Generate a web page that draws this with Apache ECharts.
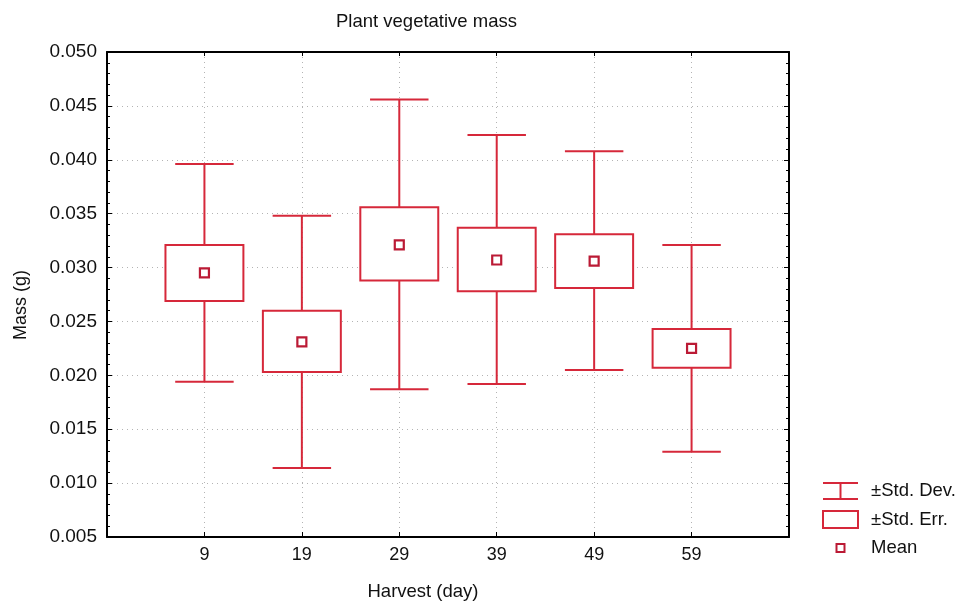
<!DOCTYPE html>
<html>
<head>
<meta charset="utf-8">
<script src="https://cdn.jsdelivr.net/npm/echarts@6/dist/echarts.min.js"></script>
<style>html,body{margin:0;padding:0;background:#fff}#c{width:964px;height:605px}</style>
</head>
<body>
<div id="c"></div>
<script>
// ---- data ----
var categories = ['9', '19', '29', '39', '49', '59'];
var means  = [0.0295, 0.0231, 0.0321, 0.0307, 0.0306, 0.0225];
var seLow  = [0.0269, 0.0203, 0.0288, 0.0278, 0.0281, 0.0207];
var seHigh = [0.0321, 0.0260, 0.0356, 0.0337, 0.0331, 0.0243];
var sdLow  = [0.0194, 0.0114, 0.0187, 0.0192, 0.0205, 0.0129];
var sdHigh = [0.0396, 0.0348, 0.0456, 0.0423, 0.0408, 0.0321];
var yTicks = ['0.005','0.010','0.015','0.020','0.025','0.030','0.035','0.040','0.045','0.050'];

var RED = '#d6283a';
var MEAN_RED = '#bb1a35';
var FONT = 'Liberation Sans, Arial, sans-serif';

var axisCats = [''].concat(categories).concat(['']);
var data = categories.map(function (c, i) {
  return [i + 1, sdLow[i], seLow[i], means[i], seHigh[i], sdHigh[i]];
});
function inner(idx) { return idx > 0 && idx < axisCats.length - 1; }

var chart = echarts.init(document.getElementById('c'), null, {renderer: 'canvas'});
var gridStyle = {type: [1, 4], color: '#b4b4b4', width: 1};

chart.setOption({
  backgroundColor: '#fff',
  animation: false,
  title: {
    text: 'Plant vegetative mass',
    left: 331, top: 7,
    textStyle: {fontFamily: FONT, fontSize: 18.5, fontWeight: 'normal', color: '#111'}
  },
  grid: {left: 107, right: 175, top: 52, bottom: 68},
  xAxis: [{
    type: 'category', data: axisCats, boundaryGap: false, position: 'bottom',
    axisLine: {lineStyle: {color: '#000', width: 2}},
    axisTick: {inside: true, length: 5, interval: function (i) { return inner(i); }, lineStyle: {color: '#000'}},
    axisLabel: {interval: 0, margin: 9, fontFamily: FONT, fontSize: 18, color: '#111'},
    splitLine: {show: true, interval: function (i) { return inner(i); }, lineStyle: gridStyle}
  }, {
    type: 'category', data: axisCats, boundaryGap: false, position: 'top',
    axisLine: {lineStyle: {color: '#000', width: 2}},
    axisTick: {inside: true, length: 4, interval: function (i) { return inner(i); }, lineStyle: {color: '#000'}},
    axisLabel: {show: false}, splitLine: {show: false}
  }],
  yAxis: [{
    type: 'value', min: 0.005, max: 0.05, interval: 0.005, position: 'left',
    axisLine: {show: true, lineStyle: {color: '#000', width: 2}},
    axisTick: {show: true, inside: true, length: 5, lineStyle: {color: '#000'}},
    minorTick: {show: true, splitNumber: 5, length: 3, lineStyle: {color: '#000'}},
    axisLabel: {
      margin: 10, fontFamily: FONT, fontSize: 19, color: '#111',
      formatter: function (v) {
        var k = Math.round(v / 0.005) - 1;
        return yTicks[k] !== undefined ? yTicks[k] : v.toFixed(3);
      }
    },
    splitLine: {show: true, lineStyle: gridStyle}
  }, {
    type: 'value', min: 0.005, max: 0.05, interval: 0.005, position: 'right',
    axisLine: {show: true, lineStyle: {color: '#000', width: 2}},
    axisTick: {show: true, inside: true, length: 5, lineStyle: {color: '#000'}},
    minorTick: {show: true, splitNumber: 5, length: 3, lineStyle: {color: '#000'}},
    axisLabel: {show: false}, splitLine: {show: false}
  }],
  series: [{
    type: 'custom',
    name: 'stats',
    xAxisIndex: 0, yAxisIndex: 0,
    data: data,
    encode: {x: 0, y: [1, 2, 3, 4, 5]},
    renderItem: function (params, api) {
      var xi = api.value(0);
      var pLo = api.coord([xi, api.value(1)]);
      var pSeLo = api.coord([xi, api.value(2)]);
      var pMean = api.coord([xi, api.value(3)]);
      var pSeHi = api.coord([xi, api.value(4)]);
      var pHi = api.coord([xi, api.value(5)]);
      var band = api.coord([xi + 1, api.value(3)])[0] - pMean[0];
      var x = pMean[0];
      var bw = band * 0.4, ww = band * 0.3;
      var ls = {stroke: RED, lineWidth: 2, fill: null};
      return {
        type: 'group',
        children: [
          {type: 'line', shape: {x1: x, y1: pHi[1], x2: x, y2: pSeHi[1]}, style: ls},
          {type: 'line', shape: {x1: x, y1: pSeLo[1], x2: x, y2: pLo[1]}, style: ls},
          {type: 'line', shape: {x1: x - ww, y1: pHi[1], x2: x + ww, y2: pHi[1]}, style: ls},
          {type: 'line', shape: {x1: x - ww, y1: pLo[1], x2: x + ww, y2: pLo[1]}, style: ls},
          {type: 'rect', shape: {x: x - bw, y: pSeHi[1], width: 2 * bw, height: pSeLo[1] - pSeHi[1]},
            style: {stroke: RED, lineWidth: 2, fill: '#fff'}},
          {type: 'rect', shape: {x: x - 4.5, y: pMean[1] - 4.5, width: 9, height: 9},
            style: {stroke: MEAN_RED, lineWidth: 2.2, fill: '#fff'}}
        ]
      };
    }
  }],
  graphic: [
    {type: 'text', x: 423, y: 592, style: {text: 'Harvest (day)', font: '18.5px ' + FONT, fill: '#111', textAlign: 'center', textVerticalAlign: 'middle'}},
    {type: 'text', x: 21, y: 305, rotation: Math.PI / 2, style: {text: 'Mass (g)', font: '18px ' + FONT, fill: '#111', textAlign: 'center', textVerticalAlign: 'middle'}},
    // legend
    {type: 'line', shape: {x1: 823, y1: 483, x2: 858, y2: 483}, style: {stroke: RED, lineWidth: 2}},
    {type: 'line', shape: {x1: 840.5, y1: 483, x2: 840.5, y2: 499}, style: {stroke: RED, lineWidth: 2}},
    {type: 'line', shape: {x1: 823, y1: 499, x2: 858, y2: 499}, style: {stroke: RED, lineWidth: 2}},
    {type: 'rect', shape: {x: 823, y: 511, width: 35, height: 17}, style: {stroke: RED, lineWidth: 2, fill: '#fff'}},
    {type: 'rect', shape: {x: 836.5, y: 544, width: 8, height: 8}, style: {stroke: MEAN_RED, lineWidth: 2, fill: '#fff'}},
    {type: 'text', x: 871, y: 491, style: {text: '±Std. Dev.', font: '18.5px ' + FONT, fill: '#111', textVerticalAlign: 'middle'}},
    {type: 'text', x: 871, y: 520, style: {text: '±Std. Err.', font: '18.5px ' + FONT, fill: '#111', textVerticalAlign: 'middle'}},
    {type: 'text', x: 871, y: 548, style: {text: 'Mean', font: '18.5px ' + FONT, fill: '#111', textVerticalAlign: 'middle'}}
  ]
});
</script>
</body>
</html>
